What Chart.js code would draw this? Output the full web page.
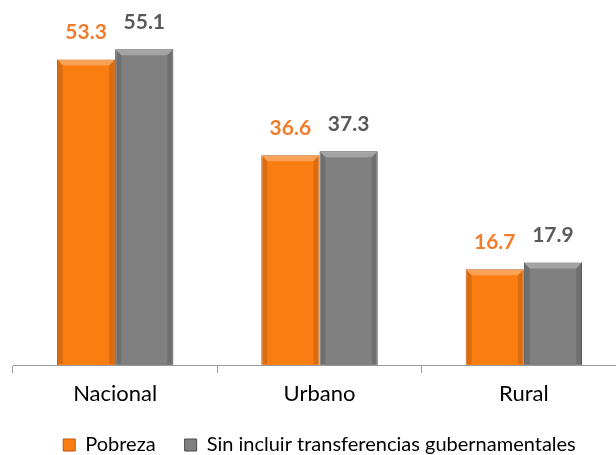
<!DOCTYPE html>
<html>
<head>
    <title>Pobreza</title>
    <script src="https://cdn.jsdelivr.net/npm/chart.js"></script>
    <style>
        html, body { margin: 0; padding: 0; background: #fff; overflow: hidden; }
        #wrap { width: 616px; height: 455px; overflow: hidden; }
    </style>
</head>
<body>
<div id="wrap"><canvas id="povertyChart" width="630" height="465"></canvas></div>
<script>
    const categories = ['Nacional', 'Urbano', 'Rural'];
    const pobreza = [53.3, 36.6, 16.7];
    const sinTransferencias = [55.1, 37.3, 17.9];
    const seriesNames = ['Pobreza', 'Sin incluir transferencias gubernamentales'];

    const FONT = 'Lato, "Open Sans", sans-serif';

    // value labels above each bar
    const valueLabels = {
        id: 'valueLabels',
        afterDatasetsDraw(chart) {
            const ctx = chart.ctx;
            const colors = ['#F07D2E', '#595959'];
            ctx.save();
            ctx.font = 'bold 21px ' + FONT;
            ctx.textAlign = 'center';
            ctx.textBaseline = 'middle';
            chart.data.datasets.forEach((ds, i) => {
                const meta = chart.getDatasetMeta(i);
                ctx.fillStyle = colors[i];
                meta.data.forEach((bar, j) => {
                    ctx.fillText(ds.data[j].toFixed(1), bar.x, bar.y - 27);
                });
            });
            ctx.restore();
        }
    };

    // bevel shading on the bars
    const bevel = {
        id: 'bevel',
        afterDatasetsDraw(chart) {
            const ctx = chart.ctx;
            ctx.save();
            chart.data.datasets.forEach((ds, i) => {
                chart.getDatasetMeta(i).data.forEach(bar => {
                    const left = bar.x - bar.width / 2;
                    const right = bar.x + bar.width / 2;
                    const top = bar.y;
                    const bottom = bar.base;
                    const b = 6;
                    ctx.fillStyle = 'rgba(255,255,255,0.28)';
                    ctx.beginPath();
                    ctx.moveTo(left + 1, top + 1);
                    ctx.lineTo(right - 1, top + 1);
                    ctx.lineTo(right - b, top + b);
                    ctx.lineTo(left + b, top + b);
                    ctx.closePath();
                    ctx.fill();
                    ctx.fillStyle = 'rgba(0,0,0,0.13)';
                    ctx.beginPath();
                    ctx.moveTo(left + 1, top + 1);
                    ctx.lineTo(left + b, top + b);
                    ctx.lineTo(left + b, bottom - 1);
                    ctx.lineTo(left + 1, bottom - 1);
                    ctx.closePath();
                    ctx.fill();
                    ctx.beginPath();
                    ctx.moveTo(right - 1, top + 1);
                    ctx.lineTo(right - b, top + b);
                    ctx.lineTo(right - b, bottom - 1);
                    ctx.lineTo(right - 1, bottom - 1);
                    ctx.closePath();
                    ctx.fill();
                });
            });
            ctx.restore();
        }
    };

    new Chart(document.getElementById('povertyChart').getContext('2d'), {
        type: 'bar',
        data: {
            labels: categories,
            datasets: [
                {
                    label: seriesNames[0],
                    data: pobreza,
                    backgroundColor: '#FA7D12',
                    borderColor: '#C25606',
                    borderWidth: 1,
                    categoryPercentage: 0.57,
                    barPercentage: 1.0
                },
                {
                    label: seriesNames[1],
                    data: sinTransferencias,
                    backgroundColor: '#808080',
                    borderColor: '#474747',
                    borderWidth: 1,
                    categoryPercentage: 0.57,
                    barPercentage: 1.0
                }
            ]
        },
        options: {
            responsive: false,
            animation: false,
            layout: { padding: { left: 13, right: 4, top: 0, bottom: 0 } },
            plugins: {
                tooltip: { enabled: false },
                legend: {
                    position: 'bottom',
                    labels: {
                        font: { family: FONT, size: 20 },
                        color: '#000',
                        boxWidth: 12,
                        boxHeight: 12,
                        padding: 29
                    }
                }
            },
            scales: {
                x: {
                    // drop the extra padding Chart.js adds below the labels
                    afterFit(scale) { scale.height = 41; },
                    grid: {
                        offset: true,
                        drawOnChartArea: false,
                        tickLength: 8,
                        color: '#9A9A9A'
                    },
                    border: { color: '#9A9A9A' },
                    ticks: {
                        font: { family: FONT, size: 22, lineHeight: 1.0 },
                        color: '#000',
                        padding: 10
                    }
                },
                y: {
                    display: false,
                    min: 0,
                    max: 63.7
                }
            }
        },
        plugins: [valueLabels, bevel]
    });
</script>
</body>
</html>
